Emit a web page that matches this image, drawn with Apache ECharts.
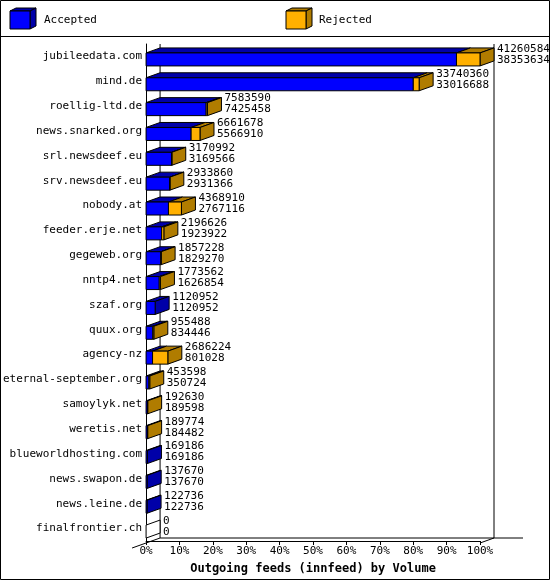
<!DOCTYPE html>
<html><head><meta charset="utf-8">
<script src="https://cdn.jsdelivr.net/npm/echarts@6/dist/echarts.min.js"></script>
<style>html,body{margin:0;background:#fff}#c{width:550px;height:580px}</style>
</head><body><div id="c"></div>
<script>
const hosts = ['jubileedata.com','mind.de','roellig-ltd.de','news.snarked.org','srl.newsdeef.eu','srv.newsdeef.eu','nobody.at','feeder.erje.net','gegeweb.org','nntp4.net','szaf.org','quux.org','agency-nz','eternal-september.org','samoylyk.net','weretis.net','blueworldhosting.com','news.swapon.de','news.leine.de','finalfrontier.ch'];
const offered = [41260584,33740360,7583590,6661678,3170992,2933860,4368910,2196626,1857228,1773562,1120952,955488,2686224,453598,192630,189774,169186,137670,122736,0];
const accepted = [38353634,33016688,7425458,5566910,3169566,2931366,2767116,1923922,1829270,1626854,1120952,834446,801028,350724,189598,184482,169186,137670,122736,0];
const ticks = ['0%','10%','20%','30%','40%','50%','60%','70%','80%','90%','100%'];

const maxV = Math.max(...offered);
const FONT = '"DejaVu Sans Mono", monospace';
const DX = 14, DY = 5, H = 13;
const BLUE = '#0000ff', BLUE_D = '#0000a8', ORG = '#ffb000', ORG_D = '#b07c00';

const data = hosts.map((h, i) => [offered[i] / maxV * 100, accepted[i] / maxV * 100, i]);

function renderItem(params, api) {
  const off = api.value(0), acc = api.value(1), i = api.value(2);
  const p0 = api.coord([0, i]);
  const pa = api.coord([acc, i]);
  const po = api.coord([off, i]);
  const y = p0[1] - H / 2 + 3;
  const x0 = p0[0], xa = pa[0], xo = po[0];
  const st = (c) => ({ fill: c, stroke: '#000', lineWidth: 1 });
  const ch = [];
  const poly = (pts, c) => ch.push({ type: 'polygon', shape: { points: pts }, style: st(c) });
  // top faces
  if (xa > x0) poly([[x0, y], [xa, y], [xa + DX, y - DY], [x0 + DX, y - DY]], BLUE_D);
  if (xo > xa) poly([[xa, y], [xo, y], [xo + DX, y - DY], [xa + DX, y - DY]], ORG_D);
  // side face
  poly([[xo, y], [xo + DX, y - DY], [xo + DX, y - DY + H], [xo, y + H]], off > acc ? ORG_D : (off > 0 ? BLUE_D : '#fff'));
  // front faces
  if (xa > x0) ch.push({ type: 'rect', shape: { x: x0, y: y, width: xa - x0, height: H }, style: st(BLUE) });
  if (xo > xa) ch.push({ type: 'rect', shape: { x: xa, y: y, width: xo - xa, height: H }, style: st(ORG) });
  const tx = xo + DX + 3;
  ch.push({ type: 'text', style: { text: String(offered[i]), x: tx, y: y - DY + 1, font: '11px ' + FONT, fill: '#000', verticalAlign: 'middle' } });
  ch.push({ type: 'text', style: { text: String(accepted[i]), x: tx, y: y - DY + 12, font: '11px ' + FONT, fill: '#000', verticalAlign: 'middle' } });
  return { type: 'group', children: ch };
}

const chart = echarts.init(document.getElementById('c'));
chart.setOption({
  animation: false,
  grid: { left: 134, right: 70, top: 44, bottom: 37 },
  xAxis: {
    type: 'value', min: 0, max: 100, interval: 10,
    axisLine: { show: true, lineStyle: { color: '#000' } },
    axisTick: { show: true, lineStyle: { color: '#000' }, length: 4 },
    splitLine: { show: false },
    axisLabel: { formatter: (v) => ticks[v / 10], color: '#000', fontFamily: FONT, fontSize: 11, margin: 5 },
    name: 'Outgoing feeds (innfeed) by Volume', nameLocation: 'middle', nameGap: 22,
    nameTextStyle: { fontFamily: FONT, fontSize: 12, fontWeight: 'bold', color: '#000' }
  },
  yAxis: {
    type: 'category', data: hosts, inverse: true,
    axisLine: { show: true, lineStyle: { color: '#000' } },
    axisTick: { show: false },
    axisLabel: { color: '#000', fontFamily: FONT, fontSize: 11, margin: 4 }
  },
  series: [{ type: 'custom', renderItem, data, encode: { x: 0, y: 2 } }]
});

const pL = chart.convertToPixel({ gridIndex: 0 }, [0, 0]);
const pR = chart.convertToPixel({ gridIndex: 0 }, [100, 0]);
const gTop = 44, gBot = 580 - 37;
const line = (x1, y1, x2, y2) => ({ type: 'line', shape: { x1, y1, x2, y2 }, style: { stroke: '#000', lineWidth: 1 }, silent: true });
const cube = (x, c, d) => ([
  { type: 'polygon', shape: { points: [[x, 11], [x + 20, 11], [x + 26, 8], [x + 6, 8]] }, style: { fill: d, stroke: '#000' } },
  { type: 'polygon', shape: { points: [[x + 20, 11], [x + 26, 8], [x + 26, 26], [x + 20, 29]] }, style: { fill: d, stroke: '#000' } },
  { type: 'rect', shape: { x: x, y: 11, width: 20, height: 18 }, style: { fill: c, stroke: '#000' } }
]);
chart.setOption({
  graphic: [
    { type: 'rect', shape: { x: 0.5, y: 0.5, width: 549, height: 579 }, style: { fill: 'none', stroke: '#000' }, silent: true },
    line(0, 36.5, 550, 36.5),
    ...cube(10, BLUE, BLUE_D),
    { type: 'text', style: { text: 'Accepted', x: 44, y: 20, font: '11px ' + FONT, fill: '#000', verticalAlign: 'middle' } },
    ...cube(286, ORG, ORG_D),
    { type: 'text', style: { text: 'Rejected', x: 319, y: 20, font: '11px ' + FONT, fill: '#000', verticalAlign: 'middle' } },
    line(pL[0] + DX, gTop, pL[0] + DX, gBot - DY),
    line(pR[0] + DX, gTop, pR[0] + DX, gBot - DY),
    line(pL[0] + DX, gBot - DY, 523, gBot - DY),
    line(pL[0] - DX, gBot + DY, pL[0] + DX, gBot - DY),
    line(pR[0], gBot, pR[0] + DX, gBot - DY)
  ]
});
</script></body></html>
